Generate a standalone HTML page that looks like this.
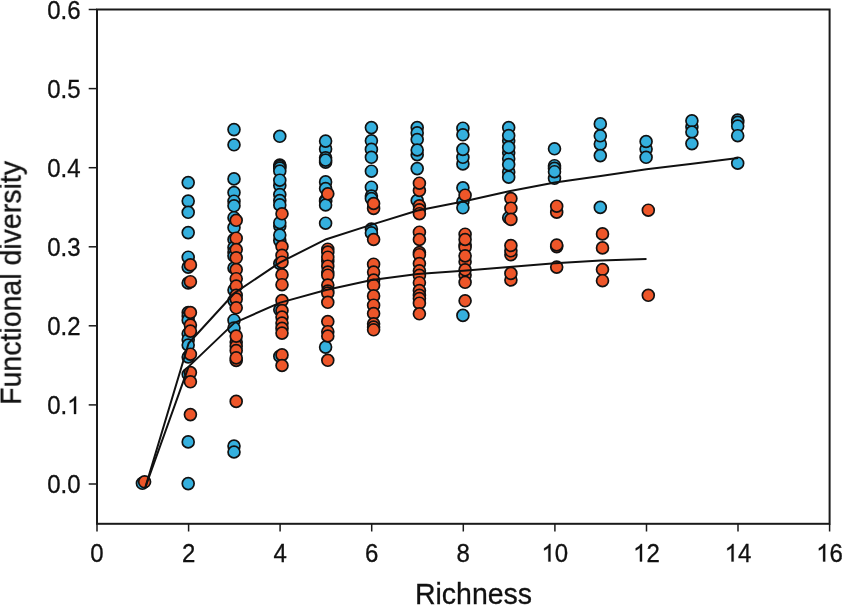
<!DOCTYPE html>
<html><head><meta charset="utf-8"><style>
html,body{margin:0;padding:0;background:#fff;}
body{width:843px;height:605px;overflow:hidden;}
svg{display:block;font-family:"Liberation Sans",sans-serif;}
.lab,.ttl{will-change:transform;}
.b{fill:#35B0DE;stroke:#111;stroke-width:1.7;}
.o{fill:#EE5629;stroke:#111;stroke-width:1.7;}
.tk line{stroke:#1a1a1a;stroke-width:1.5;}
.lab{font-size:24px;fill:#111;}
.lab text,.ttl{stroke:#111;stroke-width:0.3px;}
.lab path{fill:#111;stroke:#111;stroke-width:26;}
.ttl{font-size:28.5px;fill:#111;}
</style></head><body>
<svg width="843" height="605" viewBox="0 0 843 605">
<rect width="843" height="605" fill="#fff"/>
<g>
<circle class="b" cx="142.4" cy="483.3" r="5.95"/>
<circle class="b" cx="188.2" cy="182.6" r="5.95"/>
<circle class="b" cx="188.2" cy="201.1" r="5.95"/>
<circle class="b" cx="188.2" cy="212.3" r="5.95"/>
<circle class="b" cx="188.2" cy="232.6" r="5.95"/>
<circle class="b" cx="188.2" cy="257.2" r="5.95"/>
<circle class="b" cx="188.2" cy="267.1" r="5.95"/>
<circle class="b" cx="188.2" cy="283.0" r="5.95"/>
<circle class="b" cx="188.2" cy="312.5" r="5.95"/>
<circle class="b" cx="188.2" cy="316.0" r="5.95"/>
<circle class="b" cx="188.2" cy="320.0" r="5.95"/>
<circle class="b" cx="188.2" cy="333.7" r="5.95"/>
<circle class="b" cx="188.2" cy="339.7" r="5.95"/>
<circle class="b" cx="188.2" cy="345.0" r="5.95"/>
<circle class="b" cx="188.2" cy="357.0" r="5.95"/>
<circle class="b" cx="188.2" cy="374.3" r="5.95"/>
<circle class="b" cx="188.2" cy="441.9" r="5.95"/>
<circle class="b" cx="188.2" cy="483.6" r="5.95"/>
<circle class="b" cx="234.0" cy="129.6" r="5.95"/>
<circle class="b" cx="234.0" cy="144.8" r="5.95"/>
<circle class="b" cx="234.0" cy="178.9" r="5.95"/>
<circle class="b" cx="234.0" cy="192.6" r="5.95"/>
<circle class="b" cx="234.0" cy="201.2" r="5.95"/>
<circle class="b" cx="234.0" cy="205.8" r="5.95"/>
<circle class="b" cx="234.0" cy="217.7" r="5.95"/>
<circle class="b" cx="234.0" cy="227.6" r="5.95"/>
<circle class="b" cx="234.0" cy="239.5" r="5.95"/>
<circle class="b" cx="234.0" cy="247.5" r="5.95"/>
<circle class="b" cx="234.0" cy="252.0" r="5.95"/>
<circle class="b" cx="234.0" cy="256.0" r="5.95"/>
<circle class="b" cx="234.0" cy="268.0" r="5.95"/>
<circle class="b" cx="234.0" cy="290.0" r="5.95"/>
<circle class="b" cx="234.0" cy="300.6" r="5.95"/>
<circle class="b" cx="234.0" cy="320.2" r="5.95"/>
<circle class="b" cx="234.0" cy="328.1" r="5.95"/>
<circle class="b" cx="234.0" cy="446.1" r="5.95"/>
<circle class="b" cx="234.0" cy="452.0" r="5.95"/>
<circle class="b" cx="279.8" cy="136.3" r="5.95"/>
<circle class="b" cx="279.8" cy="165.0" r="5.95"/>
<circle class="b" cx="279.8" cy="166.5" r="5.95"/>
<circle class="b" cx="279.8" cy="168.0" r="5.95"/>
<circle class="b" cx="279.8" cy="171.0" r="5.95"/>
<circle class="b" cx="279.8" cy="185.5" r="5.95"/>
<circle class="b" cx="279.8" cy="180.2" r="5.95"/>
<circle class="b" cx="279.8" cy="194.5" r="5.95"/>
<circle class="b" cx="279.8" cy="200.5" r="5.95"/>
<circle class="b" cx="279.8" cy="204.9" r="5.95"/>
<circle class="b" cx="279.8" cy="226.0" r="5.95"/>
<circle class="b" cx="279.8" cy="222.7" r="5.95"/>
<circle class="b" cx="279.8" cy="240.6" r="5.95"/>
<circle class="b" cx="279.8" cy="235.1" r="5.95"/>
<circle class="b" cx="279.8" cy="263.5" r="5.95"/>
<circle class="b" cx="279.8" cy="309.8" r="5.95"/>
<circle class="b" cx="279.8" cy="356.2" r="5.95"/>
<circle class="b" cx="325.6" cy="148.9" r="5.95"/>
<circle class="b" cx="325.6" cy="141.1" r="5.95"/>
<circle class="b" cx="325.6" cy="157.8" r="5.95"/>
<circle class="b" cx="325.6" cy="162.2" r="5.95"/>
<circle class="b" cx="325.6" cy="160.1" r="5.95"/>
<circle class="b" cx="325.6" cy="181.9" r="5.95"/>
<circle class="b" cx="325.6" cy="188.5" r="5.95"/>
<circle class="b" cx="325.6" cy="200.4" r="5.95"/>
<circle class="b" cx="325.6" cy="201.6" r="5.95"/>
<circle class="b" cx="325.6" cy="205.0" r="5.95"/>
<circle class="b" cx="325.6" cy="223.2" r="5.95"/>
<circle class="b" cx="325.6" cy="347.1" r="5.95"/>
<circle class="b" cx="371.4" cy="127.6" r="5.95"/>
<circle class="b" cx="371.4" cy="140.8" r="5.95"/>
<circle class="b" cx="371.4" cy="149.4" r="5.95"/>
<circle class="b" cx="371.4" cy="157.3" r="5.95"/>
<circle class="b" cx="371.4" cy="171.2" r="5.95"/>
<circle class="b" cx="371.4" cy="187.2" r="5.95"/>
<circle class="b" cx="371.4" cy="196.0" r="5.95"/>
<circle class="b" cx="371.4" cy="198.5" r="5.95"/>
<circle class="b" cx="371.4" cy="229.0" r="5.95"/>
<circle class="b" cx="371.4" cy="232.9" r="5.95"/>
<circle class="b" cx="417.2" cy="127.6" r="5.95"/>
<circle class="b" cx="417.2" cy="132.9" r="5.95"/>
<circle class="b" cx="417.2" cy="154.7" r="5.95"/>
<circle class="b" cx="417.2" cy="139.5" r="5.95"/>
<circle class="b" cx="417.2" cy="150.0" r="5.95"/>
<circle class="b" cx="417.2" cy="168.6" r="5.95"/>
<circle class="b" cx="417.2" cy="200.5" r="5.95"/>
<circle class="b" cx="462.9" cy="128.2" r="5.95"/>
<circle class="b" cx="462.9" cy="134.8" r="5.95"/>
<circle class="b" cx="462.9" cy="163.9" r="5.95"/>
<circle class="b" cx="462.9" cy="157.3" r="5.95"/>
<circle class="b" cx="462.9" cy="149.4" r="5.95"/>
<circle class="b" cx="462.9" cy="187.8" r="5.95"/>
<circle class="b" cx="462.9" cy="201.8" r="5.95"/>
<circle class="b" cx="462.9" cy="207.8" r="5.95"/>
<circle class="b" cx="462.9" cy="315.4" r="5.95"/>
<circle class="b" cx="508.7" cy="127.6" r="5.95"/>
<circle class="b" cx="508.7" cy="140.8" r="5.95"/>
<circle class="b" cx="508.7" cy="152.7" r="5.95"/>
<circle class="b" cx="508.7" cy="158.7" r="5.95"/>
<circle class="b" cx="508.7" cy="171.9" r="5.95"/>
<circle class="b" cx="508.7" cy="135.5" r="5.95"/>
<circle class="b" cx="508.7" cy="147.4" r="5.95"/>
<circle class="b" cx="508.7" cy="164.6" r="5.95"/>
<circle class="b" cx="508.7" cy="177.2" r="5.95"/>
<circle class="b" cx="508.7" cy="217.7" r="5.95"/>
<circle class="b" cx="554.5" cy="148.8" r="5.95"/>
<circle class="b" cx="554.5" cy="165.7" r="5.95"/>
<circle class="b" cx="554.5" cy="168.4" r="5.95"/>
<circle class="b" cx="554.5" cy="178.3" r="5.95"/>
<circle class="b" cx="554.5" cy="171.7" r="5.95"/>
<circle class="b" cx="600.3" cy="144.1" r="5.95"/>
<circle class="b" cx="600.3" cy="123.9" r="5.95"/>
<circle class="b" cx="600.3" cy="135.8" r="5.95"/>
<circle class="b" cx="600.3" cy="155.6" r="5.95"/>
<circle class="b" cx="600.3" cy="207.4" r="5.95"/>
<circle class="b" cx="646.1" cy="149.0" r="5.95"/>
<circle class="b" cx="646.1" cy="141.5" r="5.95"/>
<circle class="b" cx="646.1" cy="157.3" r="5.95"/>
<circle class="b" cx="691.9" cy="126.8" r="5.95"/>
<circle class="b" cx="691.9" cy="120.8" r="5.95"/>
<circle class="b" cx="691.9" cy="132.0" r="5.95"/>
<circle class="b" cx="691.9" cy="143.6" r="5.95"/>
<circle class="b" cx="737.7" cy="120.0" r="5.95"/>
<circle class="b" cx="737.7" cy="122.3" r="5.95"/>
<circle class="b" cx="737.7" cy="126.0" r="5.95"/>
<circle class="b" cx="737.7" cy="135.7" r="5.95"/>
<circle class="b" cx="737.7" cy="163.2" r="5.95"/>
</g>
<g>
<circle class="o" cx="144.6" cy="481.8" r="5.95"/>
<circle class="o" cx="190.4" cy="264.9" r="5.95"/>
<circle class="o" cx="190.4" cy="281.7" r="5.95"/>
<circle class="o" cx="190.4" cy="312.5" r="5.95"/>
<circle class="o" cx="190.4" cy="325.1" r="5.95"/>
<circle class="o" cx="190.4" cy="331.1" r="5.95"/>
<circle class="o" cx="190.4" cy="354.2" r="5.95"/>
<circle class="o" cx="190.4" cy="372.6" r="5.95"/>
<circle class="o" cx="190.4" cy="381.8" r="5.95"/>
<circle class="o" cx="190.4" cy="414.6" r="5.95"/>
<circle class="o" cx="236.2" cy="220.3" r="5.95"/>
<circle class="o" cx="236.2" cy="238.2" r="5.95"/>
<circle class="o" cx="236.2" cy="249.5" r="5.95"/>
<circle class="o" cx="236.2" cy="257.8" r="5.95"/>
<circle class="o" cx="236.2" cy="269.5" r="5.95"/>
<circle class="o" cx="236.2" cy="278.7" r="5.95"/>
<circle class="o" cx="236.2" cy="286.0" r="5.95"/>
<circle class="o" cx="236.2" cy="295.3" r="5.95"/>
<circle class="o" cx="236.2" cy="299.0" r="5.95"/>
<circle class="o" cx="236.2" cy="307.8" r="5.95"/>
<circle class="o" cx="236.2" cy="342.0" r="5.95"/>
<circle class="o" cx="236.2" cy="346.0" r="5.95"/>
<circle class="o" cx="236.2" cy="350.6" r="5.95"/>
<circle class="o" cx="236.2" cy="360.5" r="5.95"/>
<circle class="o" cx="236.2" cy="336.1" r="5.95"/>
<circle class="o" cx="236.2" cy="357.9" r="5.95"/>
<circle class="o" cx="236.2" cy="401.4" r="5.95"/>
<circle class="o" cx="282.0" cy="213.8" r="5.95"/>
<circle class="o" cx="282.0" cy="246.5" r="5.95"/>
<circle class="o" cx="282.0" cy="255.3" r="5.95"/>
<circle class="o" cx="282.0" cy="262.2" r="5.95"/>
<circle class="o" cx="282.0" cy="274.8" r="5.95"/>
<circle class="o" cx="282.0" cy="284.7" r="5.95"/>
<circle class="o" cx="282.0" cy="300.6" r="5.95"/>
<circle class="o" cx="282.0" cy="310.5" r="5.95"/>
<circle class="o" cx="282.0" cy="317.1" r="5.95"/>
<circle class="o" cx="282.0" cy="323.0" r="5.95"/>
<circle class="o" cx="282.0" cy="328.4" r="5.95"/>
<circle class="o" cx="282.0" cy="333.1" r="5.95"/>
<circle class="o" cx="282.0" cy="354.9" r="5.95"/>
<circle class="o" cx="282.0" cy="365.5" r="5.95"/>
<circle class="o" cx="327.8" cy="193.8" r="5.95"/>
<circle class="o" cx="327.8" cy="249.2" r="5.95"/>
<circle class="o" cx="327.8" cy="252.0" r="5.95"/>
<circle class="o" cx="327.8" cy="261.3" r="5.95"/>
<circle class="o" cx="327.8" cy="257.2" r="5.95"/>
<circle class="o" cx="327.8" cy="266.2" r="5.95"/>
<circle class="o" cx="327.8" cy="272.0" r="5.95"/>
<circle class="o" cx="327.8" cy="275.2" r="5.95"/>
<circle class="o" cx="327.8" cy="285.1" r="5.95"/>
<circle class="o" cx="327.8" cy="291.1" r="5.95"/>
<circle class="o" cx="327.8" cy="293.0" r="5.95"/>
<circle class="o" cx="327.8" cy="302.3" r="5.95"/>
<circle class="o" cx="327.8" cy="321.5" r="5.95"/>
<circle class="o" cx="327.8" cy="331.7" r="5.95"/>
<circle class="o" cx="327.8" cy="336.0" r="5.95"/>
<circle class="o" cx="327.8" cy="360.3" r="5.95"/>
<circle class="o" cx="373.6" cy="208.4" r="5.95"/>
<circle class="o" cx="373.6" cy="203.5" r="5.95"/>
<circle class="o" cx="373.6" cy="239.5" r="5.95"/>
<circle class="o" cx="373.6" cy="264.2" r="5.95"/>
<circle class="o" cx="373.6" cy="272.1" r="5.95"/>
<circle class="o" cx="373.6" cy="280.0" r="5.95"/>
<circle class="o" cx="373.6" cy="285.3" r="5.95"/>
<circle class="o" cx="373.6" cy="295.9" r="5.95"/>
<circle class="o" cx="373.6" cy="305.2" r="5.95"/>
<circle class="o" cx="373.6" cy="313.5" r="5.95"/>
<circle class="o" cx="373.6" cy="323.8" r="5.95"/>
<circle class="o" cx="373.6" cy="327.0" r="5.95"/>
<circle class="o" cx="373.6" cy="329.8" r="5.95"/>
<circle class="o" cx="419.4" cy="190.5" r="5.95"/>
<circle class="o" cx="419.4" cy="183.2" r="5.95"/>
<circle class="o" cx="419.4" cy="205.8" r="5.95"/>
<circle class="o" cx="419.4" cy="209.8" r="5.95"/>
<circle class="o" cx="419.4" cy="213.7" r="5.95"/>
<circle class="o" cx="419.4" cy="232.2" r="5.95"/>
<circle class="o" cx="419.4" cy="239.5" r="5.95"/>
<circle class="o" cx="419.4" cy="252.5" r="5.95"/>
<circle class="o" cx="419.4" cy="254.7" r="5.95"/>
<circle class="o" cx="419.4" cy="263.5" r="5.95"/>
<circle class="o" cx="419.4" cy="270.8" r="5.95"/>
<circle class="o" cx="419.4" cy="275.4" r="5.95"/>
<circle class="o" cx="419.4" cy="282.7" r="5.95"/>
<circle class="o" cx="419.4" cy="290.6" r="5.95"/>
<circle class="o" cx="419.4" cy="295.3" r="5.95"/>
<circle class="o" cx="419.4" cy="298.6" r="5.95"/>
<circle class="o" cx="419.4" cy="303.2" r="5.95"/>
<circle class="o" cx="419.4" cy="313.8" r="5.95"/>
<circle class="o" cx="465.1" cy="195.2" r="5.95"/>
<circle class="o" cx="465.1" cy="234.2" r="5.95"/>
<circle class="o" cx="465.1" cy="244.8" r="5.95"/>
<circle class="o" cx="465.1" cy="247.3" r="5.95"/>
<circle class="o" cx="465.1" cy="261.8" r="5.95"/>
<circle class="o" cx="465.1" cy="275.0" r="5.95"/>
<circle class="o" cx="465.1" cy="239.5" r="5.95"/>
<circle class="o" cx="465.1" cy="255.9" r="5.95"/>
<circle class="o" cx="465.1" cy="269.8" r="5.95"/>
<circle class="o" cx="465.1" cy="282.3" r="5.95"/>
<circle class="o" cx="465.1" cy="300.8" r="5.95"/>
<circle class="o" cx="510.9" cy="198.5" r="5.95"/>
<circle class="o" cx="510.9" cy="208.2" r="5.95"/>
<circle class="o" cx="510.9" cy="219.4" r="5.95"/>
<circle class="o" cx="510.9" cy="254.7" r="5.95"/>
<circle class="o" cx="510.9" cy="250.8" r="5.95"/>
<circle class="o" cx="510.9" cy="245.5" r="5.95"/>
<circle class="o" cx="510.9" cy="280.0" r="5.95"/>
<circle class="o" cx="510.9" cy="273.4" r="5.95"/>
<circle class="o" cx="556.7" cy="212.2" r="5.95"/>
<circle class="o" cx="556.7" cy="206.2" r="5.95"/>
<circle class="o" cx="556.7" cy="246.6" r="5.95"/>
<circle class="o" cx="556.7" cy="245.0" r="5.95"/>
<circle class="o" cx="556.7" cy="267.1" r="5.95"/>
<circle class="o" cx="602.5" cy="233.9" r="5.95"/>
<circle class="o" cx="602.5" cy="247.9" r="5.95"/>
<circle class="o" cx="602.5" cy="269.5" r="5.95"/>
<circle class="o" cx="602.5" cy="280.7" r="5.95"/>
<circle class="o" cx="648.3" cy="210.2" r="5.95"/>
<circle class="o" cx="648.3" cy="295.3" r="5.95"/>
</g>
<polyline points="145.3,487.5 188.6,343.2 234.4,293.2 280.2,262.3 326.3,239.2 371.8,224.6 417.6,210.5 463.3,201.5 509.1,191.3 554.9,182.5 600.7,175.9 646.5,169.3 692.3,163.8 738.1,158.1" fill="none" stroke="#111" stroke-width="2" stroke-linejoin="round"/>
<polyline points="145.3,487.5 188.6,366.6 234.4,322.9 280.2,302.6 326.0,290.0 371.8,280.0 417.6,274.0 463.3,270.8 509.1,267.0 554.9,263.3 600.7,260.5 646.5,259.0" fill="none" stroke="#111" stroke-width="2" stroke-linejoin="round"/>
<g class="tk">
<line x1="97.0" y1="523.8" x2="97.0" y2="531.5"/>
<line x1="188.6" y1="523.8" x2="188.6" y2="531.5"/>
<line x1="280.1" y1="523.8" x2="280.1" y2="531.5"/>
<line x1="371.7" y1="523.8" x2="371.7" y2="531.5"/>
<line x1="463.3" y1="523.8" x2="463.3" y2="531.5"/>
<line x1="554.9" y1="523.8" x2="554.9" y2="531.5"/>
<line x1="646.5" y1="523.8" x2="646.5" y2="531.5"/>
<line x1="738.0" y1="523.8" x2="738.0" y2="531.5"/>
<line x1="829.6" y1="523.8" x2="829.6" y2="531.5"/>
<line x1="88.7" y1="484.0" x2="97.0" y2="484.0"/>
<line x1="88.7" y1="404.9" x2="97.0" y2="404.9"/>
<line x1="88.7" y1="325.8" x2="97.0" y2="325.8"/>
<line x1="88.7" y1="246.8" x2="97.0" y2="246.8"/>
<line x1="88.7" y1="167.7" x2="97.0" y2="167.7"/>
<line x1="88.7" y1="88.6" x2="97.0" y2="88.6"/>
<line x1="88.7" y1="9.5" x2="97.0" y2="9.5"/>
</g>
<rect x="97.0" y="9.5" width="732.6" height="514.3" fill="none" stroke="#1a1a1a" stroke-width="2"/>
<g class="lab">
<text x="90.33" y="0" transform="translate(0,561.50) scale(1,1.05)">0</text>
<text x="181.90" y="0" transform="translate(0,561.50) scale(1,1.05)">2</text>
<text x="273.48" y="0" transform="translate(0,561.50) scale(1,1.05)">4</text>
<text x="365.05" y="0" transform="translate(0,561.50) scale(1,1.05)">6</text>
<text x="456.63" y="0" transform="translate(0,561.50) scale(1,1.05)">8</text>
<text x="541.53" y="0" transform="translate(0,561.50) scale(1,1.05)"><tspan style="fill:none;stroke:none">1</tspan>0</text>
<path d="M763,0 L583,0 L583,1147 Q518,1085 412,1023 Q306,961 222,930 L222,1104 Q375,1176 489,1277 Q603,1378 650,1472 L763,1472 Z" transform="translate(541.53,561.50) scale(0.011719,-0.011953)"/>
<text x="633.10" y="0" transform="translate(0,561.50) scale(1,1.05)"><tspan style="fill:none;stroke:none">1</tspan>2</text>
<path d="M763,0 L583,0 L583,1147 Q518,1085 412,1023 Q306,961 222,930 L222,1104 Q375,1176 489,1277 Q603,1378 650,1472 L763,1472 Z" transform="translate(633.10,561.50) scale(0.011719,-0.011953)"/>
<text x="724.68" y="0" transform="translate(0,561.50) scale(1,1.05)"><tspan style="fill:none;stroke:none">1</tspan>4</text>
<path d="M763,0 L583,0 L583,1147 Q518,1085 412,1023 Q306,961 222,930 L222,1104 Q375,1176 489,1277 Q603,1378 650,1472 L763,1472 Z" transform="translate(724.68,561.50) scale(0.011719,-0.011953)"/>
<text x="816.25" y="0" transform="translate(0,561.50) scale(1,1.05)"><tspan style="fill:none;stroke:none">1</tspan>6</text>
<path d="M763,0 L583,0 L583,1147 Q518,1085 412,1023 Q306,961 222,930 L222,1104 Q375,1176 489,1277 Q603,1378 650,1472 L763,1472 Z" transform="translate(816.25,561.50) scale(0.011719,-0.011953)"/>
<text x="47.14" y="0" transform="translate(0,493.10) scale(1,1.05)">0.0</text>
<text x="47.14" y="0" transform="translate(0,414.02) scale(1,1.05)">0.<tspan style="fill:none;stroke:none">1</tspan></text>
<path d="M763,0 L583,0 L583,1147 Q518,1085 412,1023 Q306,961 222,930 L222,1104 Q375,1176 489,1277 Q603,1378 650,1472 L763,1472 Z" transform="translate(67.15,414.02) scale(0.011719,-0.011953)"/>
<text x="47.14" y="0" transform="translate(0,334.93) scale(1,1.05)">0.2</text>
<text x="47.14" y="0" transform="translate(0,255.85) scale(1,1.05)">0.3</text>
<text x="47.14" y="0" transform="translate(0,176.77) scale(1,1.05)">0.4</text>
<text x="47.14" y="0" transform="translate(0,97.68) scale(1,1.05)">0.5</text>
<text x="47.14" y="0" transform="translate(0,18.60) scale(1,1.05)">0.6</text>
</g>
<text class="ttl" x="0" y="0" transform="translate(473.5,603.8) scale(1,1.04)" text-anchor="middle">Richness</text>
<text class="ttl" transform="translate(20.8,282.9) rotate(-90) scale(1,1.04)" text-anchor="middle">Functional diversity</text>
</svg>
</body></html>
